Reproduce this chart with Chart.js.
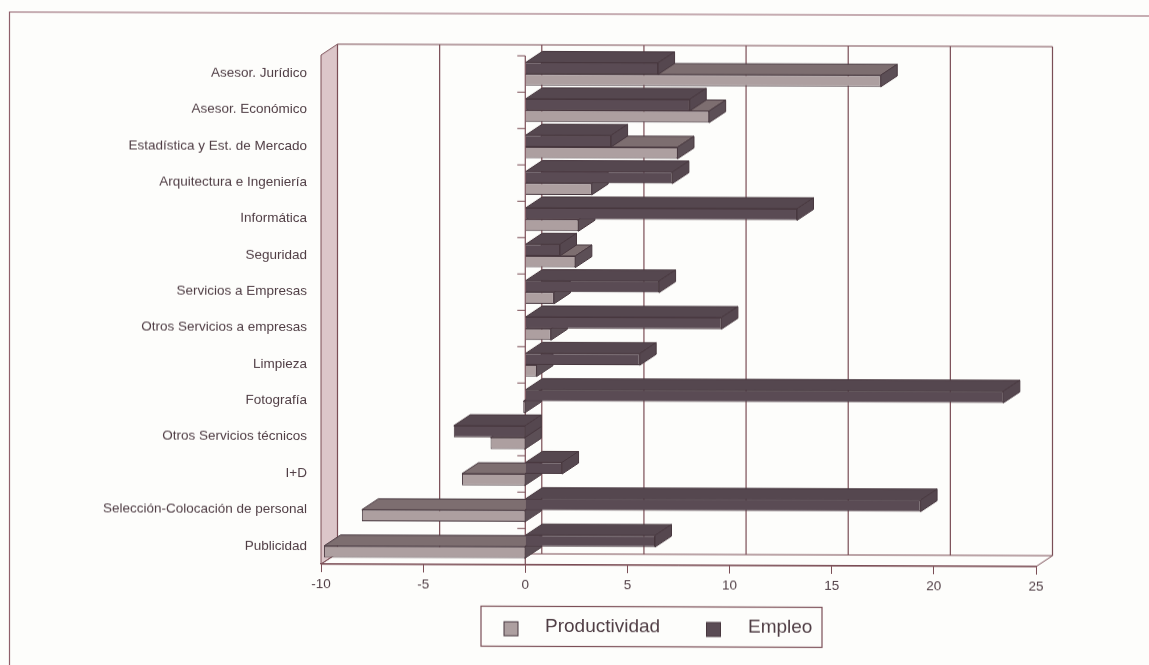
<!DOCTYPE html>
<html lang="es">
<head>
<meta charset="utf-8">
<title>Productividad y Empleo</title>
<script src="https://cdn.jsdelivr.net/npm/chart.js@4/dist/chart.umd.min.js"></script>
<style>
    html, body { margin: 0; padding: 0; background: #fdfdfb; overflow: hidden; }
    /* the printed page sits very slightly crooked */
    #chart { display: block; transform: skewY(0.2deg); transform-origin: 0 0; }
</style>
</head>
<body>
<canvas id="chart" width="1149" height="665"></canvas>
<script>
const categories = [
    'Asesor. Jurídico', 'Asesor. Económico', 'Estadística y Est. de Mercado',
    'Arquitectura e Ingeniería', 'Informática', 'Seguridad', 'Servicios a Empresas',
    'Otros Servicios a empresas', 'Limpieza', 'Fotografía', 'Otros Servicios técnicos',
    'I+D', 'Selección-Colocación de personal', 'Publicidad'
];
const empleo = [6.5, 8.05, 4.2, 7.2, 13.3, 1.7, 6.55, 9.6, 5.6, 23.4, -3.5, 1.8, 19.35, 6.35];
const productividad = [17.4, 9.0, 7.45, 3.25, 2.6, 2.45, 1.4, 1.25, 0.55, -0.1, -1.7, -3.1, -8.0, -9.85];
const xTicks = [-10, -5, 0, 5, 10, 15, 20, 25];

const DEPTH_X = 16.5;
const DEPTH_Y = -11;
const LINE = '#7a4d55';
const INK = '#4f3d44';
const FONT = 'Liberation Sans, Arial, sans-serif';

function polygon(ctx, points, fill, stroke) {
    ctx.beginPath();
    points.forEach((p, i) => i ? ctx.lineTo(p[0], p[1]) : ctx.moveTo(p[0], p[1]));
    ctx.closePath();
    if (fill) { ctx.fillStyle = fill; ctx.fill(); }
    if (stroke) { ctx.strokeStyle = stroke; ctx.lineWidth = 1; ctx.stroke(); }
}

// Walls, back grid and the depth faces of the bars, all offset from the scales
const depthPlugin = {
    id: 'depth',
    beforeDatasetsDraw(chart) {
        const { ctx, chartArea: a, scales: { x, y } } = chart;
        ctx.save();

        // left wall and floor
        polygon(ctx, [[a.left, a.top], [a.left + DEPTH_X, a.top + DEPTH_Y],
            [a.left + DEPTH_X, a.bottom + DEPTH_Y], [a.left, a.bottom]], '#dcc6c9', LINE);
        polygon(ctx, [[a.left, a.bottom], [a.left + DEPTH_X, a.bottom + DEPTH_Y],
            [a.right + DEPTH_X, a.bottom + DEPTH_Y], [a.right, a.bottom]], null, LINE);

        // back wall
        ctx.strokeStyle = LINE;
        ctx.lineWidth = 1.2;
        ctx.beginPath();
        ctx.moveTo(a.left + DEPTH_X, a.top + DEPTH_Y);
        ctx.lineTo(a.right + DEPTH_X, a.top + DEPTH_Y);
        xTicks.forEach(v => {
            const px = x.getPixelForValue(v) + DEPTH_X;
            ctx.moveTo(px, a.top + DEPTH_Y);
            ctx.lineTo(px, a.bottom + DEPTH_Y);
        });
        // category axis crosses at zero
        const zero = x.getPixelForValue(0);
        ctx.moveTo(zero, a.top);
        ctx.lineTo(zero, a.bottom);
        ctx.stroke();

        // tick marks between the categories
        ctx.lineWidth = 1;
        ctx.beginPath();
        categories.forEach((c, i) => {
            const py = y.getPixelForValue(i) - (y.getPixelForValue(1) - y.getPixelForValue(0)) / 2;
            ctx.moveTo(zero - 8, py);
            ctx.lineTo(zero, py);
        });
        ctx.stroke();

        // Productividad goes first: Empleo hides part of its top face
        [1, 0].forEach(di => {
            const ds = chart.data.datasets[di];
            chart.getDatasetMeta(di).data.forEach(bar => {
                const { x: tip, y: mid, base, height } = bar.getProps(['x', 'y', 'base', 'height']);
                const l = Math.min(tip, base);
                const r = Math.max(tip, base);
                const t = mid - height / 2;
                const b = mid + height / 2;
                polygon(ctx, [[l, t], [l + DEPTH_X, t + DEPTH_Y], [r + DEPTH_X, t + DEPTH_Y], [r, t]],
                    ds.topColor, ds.borderColor);
                polygon(ctx, [[r, t], [r + DEPTH_X, t + DEPTH_Y], [r + DEPTH_X, b + DEPTH_Y], [r, b]],
                    ds.sideColor, ds.borderColor);
            });
        });
        ctx.restore();
    }
};

// Page rule and the boxed legend under the plot
const framePlugin = {
    id: 'frame',
    afterDraw(chart) {
        const { ctx } = chart;
        const [emp, prod] = chart.data.datasets;
        ctx.save();
        ctx.strokeStyle = '#8f5f6a';
        ctx.lineWidth = 1.2;
        ctx.beginPath();
        ctx.moveTo(1149, 12);
        ctx.lineTo(9.5, 12);
        ctx.lineTo(9.5, 665);
        ctx.stroke();

        ctx.strokeStyle = LINE;
        ctx.strokeRect(481, 604.5, 341, 40);

        ctx.lineWidth = 1;
        ctx.font = '19px ' + FONT;
        ctx.textBaseline = 'middle';
        [[prod, 504, 545], [emp, 706.5, 748]].forEach(([ds, boxX, textX]) => {
            ctx.fillStyle = ds.backgroundColor;
            ctx.strokeStyle = ds.borderColor;
            ctx.fillRect(boxX, 620, 14, 14);
            ctx.strokeRect(boxX, 620, 14, 14);
            ctx.fillStyle = INK;
            ctx.fillText(ds.label, textX, 625);
        });
        ctx.restore();
    }
};

new Chart(document.getElementById('chart'), {
    type: 'bar',
    data: {
        labels: categories,
        datasets: [
            {
                label: 'Empleo',
                data: empleo,
                backgroundColor: '#5a4b54',
                borderColor: '#47373e',
                borderWidth: 1,
                topColor: '#55474f',
                sideColor: '#55474f'
            },
            {
                label: 'Productividad',
                data: productividad,
                backgroundColor: '#ad9fa0',
                borderColor: '#47373e',
                borderWidth: 1,
                topColor: '#7d6e70',
                sideColor: '#5c4f56'
            }
        ]
    },
    options: {
        indexAxis: 'y',
        responsive: false,
        animation: false,
        categoryPercentage: 0.64,
        barPercentage: 1,
        layout: { padding: { top: 54, right: 113, bottom: 72, left: 0 } },
        plugins: {
            tooltip: { enabled: false },
            legend: { display: false }
        },
        scales: {
            x: {
                type: 'linear',
                min: -10,
                max: 25,
                afterFit(scale) { scale.height = 30; },
                border: { display: true, color: LINE, width: 1.2 },
                grid: { drawOnChartArea: false, tickLength: 8, tickColor: LINE },
                ticks: {
                    stepSize: 5,
                    padding: 4,
                    color: INK,
                    maxRotation: 0,
                    font: { family: FONT, size: 13.5 }
                }
            },
            y: {
                type: 'category',
                afterFit(scale) { scale.width = 321; },
                border: { display: false },
                grid: { display: false, drawTicks: false },
                ticks: {
                    autoSkip: false,
                    padding: 14,
                    color: INK,
                    font: { family: FONT, size: 13.5 }
                }
            }
        }
    },
    plugins: [depthPlugin, framePlugin]
});
</script>
</body>
</html>
